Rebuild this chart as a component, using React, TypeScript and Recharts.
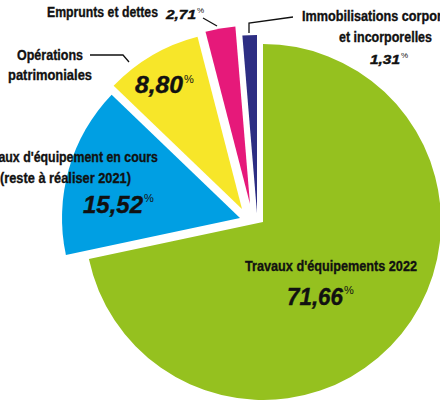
import { PieChart, Pie, Cell } from "recharts";

const categories = [
  "Travaux d'équipements 2022",
  "Travaux d'équipement en cours (reste à réaliser 2021)",
  "Opérations patrimoniales",
  "Emprunts et dettes",
  "Immobilisations corporelles et incorporelles",
];
const values = [71.66, 15.52, 8.8, 2.71, 1.31];
const colors = ["#95c11f", "#009fe3", "#f7e629", "#e6197a", "#2d2e83"];
const labelLines = [
  ["Travaux d'équipements 2022"],
  ["Travaux d'équipement en cours", "(reste à réaliser 2021)"],
  ["Opérations", "patrimoniales"],
  ["Emprunts et dettes"],
  ["Immobilisations corporelles", "et incorporelles"],
];

const data = categories.map((name, i) => ({ name, value: values[i] }));

// each slice drawn by its own Pie so it can be pulled out of the centre
const centres = [
  { cx: 263, cy: 222 },
  { cx: 240, cy: 218 },
  { cx: 242, cy: 209 },
  { cx: 250, cy: 204 },
  { cx: 257, cy: 213 },
];

const FONT = "'Liberation Sans', Arial, sans-serif";
const pct = (v: number) => v.toFixed(2).replace(".", ",");

// condensed look: squeeze the text to the width it has in the reference
function Label({ x, y, w, size = 15, anchor = "start", children }: { x: number; y: number; w: number; size?: number; anchor?: string; children: string }) {
  const left = anchor === "middle" ? x - w / 2 : anchor === "end" ? x - w : x;
  return (
    <text x={left} y={y} fontSize={size} fontWeight={700} fill="#111" stroke="#111" strokeWidth={0.35} textLength={w} lengthAdjust="spacingAndGlyphs">
      {children}
    </text>
  );
}

function Pct({ x, y, v, size, w, ps }: { x: number; y: number; v: number; size: number; w: number; ps: number }) {
  return (
    <g fill="#111">
      <text x={x} y={y} fontSize={size} fontWeight={700} fontStyle="italic" stroke="#111" strokeWidth={0.4} textLength={w} lengthAdjust="spacingAndGlyphs">
        {pct(v)}
      </text>
      <text x={x + w + 1} y={y - size * 0.45} fontSize={ps}>%</text>
    </g>
  );
}

export default function App() {
  return (
    <div style={{ position: "absolute", left: 0, top: 0, width: 440, height: 400, overflow: "hidden", background: "#fff" }}>
      <PieChart width={440} height={400} margin={{ top: 0, right: 0, bottom: 0, left: 0 }}>
        {centres.map((c, k) => (
          <Pie
            key={k}
            data={data}
            dataKey="value"
            nameKey="name"
            cx={c.cx}
            cy={c.cy}
            outerRadius={178}
            startAngle={90}
            endAngle={-270}
            stroke="none"
            isAnimationActive={false}
          >
            {data.map((_, i) => (
              <Cell key={i} fill={i === k ? colors[i] : "none"} stroke="none" />
            ))}
          </Pie>
        ))}
      </PieChart>
      <svg width={440} height={400} style={{ position: "absolute", left: 0, top: 0, pointerEvents: "none", fontFamily: FONT }}>
        <g stroke="#111" strokeWidth={1.3} fill="none">
          <polyline points="203,18 217,26" />
          <polyline points="249,33 249,23 293,17" />
          <polyline points="90,55 123,55 129,62" />
        </g>
        <Label x={245} y={271} w={172}>{labelLines[0][0]}</Label>
        <Label x={158} y={162} w={185} anchor="end">{labelLines[1][0]}</Label>
        <Label x={0} y={183} w={131}>{labelLines[1][1]}</Label>
        <Label x={50} y={60} w={66} anchor="middle">{labelLines[2][0]}</Label>
        <Label x={50} y={80} w={84} anchor="middle">{labelLines[2][1]}</Label>
        <Label x={47} y={17} w={111} size={14.5}>{labelLines[3][0]}</Label>
        <Label x={302} y={21} w={168}>{labelLines[4][0]}</Label>
        <Label x={339} y={42} w={93}>{labelLines[4][1]}</Label>
        <Pct x={287} y={305} v={values[0]} size={24} w={56} ps={11} />
        <Pct x={83} y={213} v={values[1]} size={24} w={60} ps={11} />
        <Pct x={135} y={93} v={values[2]} size={23} w={48} ps={11} />
        <Pct x={166} y={19} v={values[3]} size={13.5} w={30} ps={8} />
        <Pct x={370} y={64} v={values[4]} size={13.5} w={30} ps={8} />
      </svg>
    </div>
  );
}
